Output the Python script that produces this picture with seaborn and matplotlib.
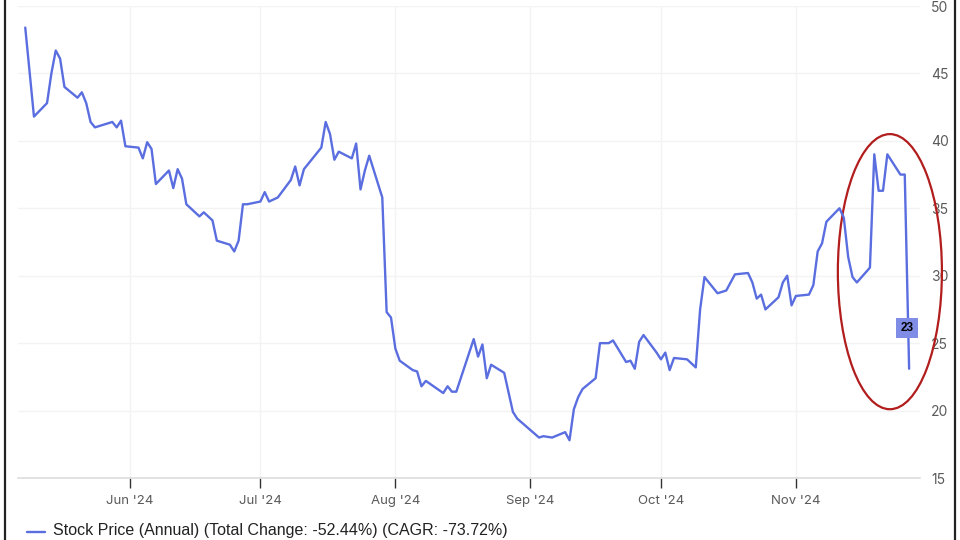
"""Stock price line chart with highlighted recent drop."""

import matplotlib
matplotlib.use("Agg")

import matplotlib.dates as mdates
import matplotlib.pyplot as plt
import pandas as pd
import seaborn as sns
from matplotlib.lines import Line2D
from matplotlib.patches import Ellipse


dates = [
    "2024-05-08", "2024-05-10", "2024-05-13", "2024-05-14", "2024-05-15", "2024-05-16",
    "2024-05-17", "2024-05-20", "2024-05-21", "2024-05-22", "2024-05-23", "2024-05-24",
    "2024-05-28", "2024-05-29", "2024-05-30", "2024-05-31", "2024-06-03", "2024-06-04",
    "2024-06-05", "2024-06-06", "2024-06-07", "2024-06-10", "2024-06-11", "2024-06-12",
    "2024-06-13", "2024-06-14", "2024-06-17", "2024-06-18", "2024-06-20", "2024-06-21",
    "2024-06-24", "2024-06-25", "2024-06-26", "2024-06-27", "2024-06-28", "2024-07-01",
    "2024-07-02", "2024-07-03", "2024-07-05", "2024-07-08", "2024-07-09", "2024-07-10",
    "2024-07-11", "2024-07-15", "2024-07-16", "2024-07-17", "2024-07-18", "2024-07-19",
    "2024-07-22", "2024-07-23", "2024-07-24", "2024-07-25", "2024-07-26", "2024-07-29",
    "2024-07-30", "2024-07-31", "2024-08-01", "2024-08-02", "2024-08-05", "2024-08-06",
    "2024-08-07", "2024-08-08", "2024-08-12", "2024-08-13", "2024-08-14", "2024-08-15",
    "2024-08-19", "2024-08-20", "2024-08-21", "2024-08-22", "2024-08-23", "2024-08-26",
    "2024-08-28", "2024-08-29", "2024-09-03", "2024-09-04", "2024-09-06", "2024-09-09",
    "2024-09-10", "2024-09-11", "2024-09-12", "2024-09-13", "2024-09-16", "2024-09-17",
    "2024-09-19", "2024-09-20", "2024-09-23", "2024-09-24", "2024-09-25", "2024-09-26",
    "2024-09-27", "2024-09-30", "2024-10-01", "2024-10-02", "2024-10-03", "2024-10-04",
    "2024-10-07", "2024-10-09", "2024-10-10", "2024-10-11", "2024-10-14", "2024-10-15",
    "2024-10-16", "2024-10-18", "2024-10-21", "2024-10-22", "2024-10-23", "2024-10-24",
    "2024-10-25", "2024-10-28", "2024-10-29", "2024-10-30", "2024-10-31", "2024-11-01",
    "2024-11-04", "2024-11-05", "2024-11-06", "2024-11-07", "2024-11-08", "2024-11-11",
    "2024-11-12", "2024-11-13", "2024-11-14", "2024-11-15", "2024-11-18", "2024-11-19",
    "2024-11-20", "2024-11-21", "2024-11-22", "2024-11-25", "2024-11-26", "2024-11-27",
]

prices = [
    48.4, 41.8, 42.8, 45.0, 46.7, 46.1,
    44.0, 43.2, 43.6, 42.8, 41.4, 41.0,
    41.4, 41.0, 41.5, 39.6, 39.5, 38.7,
    39.9, 39.4, 36.8, 37.8, 36.5, 37.9,
    37.2, 35.3, 34.4, 34.7, 34.1, 32.6,
    32.3, 31.8, 32.6, 35.3, 35.3, 35.5,
    36.2, 35.5, 35.8, 37.1, 38.1, 36.7,
    37.9, 39.5, 41.4, 40.5, 38.6, 39.2,
    38.7, 39.8, 36.4, 37.8, 38.9, 35.8,
    27.3, 26.9, 24.6, 23.7, 23.0, 22.9,
    21.8, 22.2, 21.3, 21.8, 21.4, 21.4,
    25.3, 24.0, 24.9, 22.4, 23.4, 22.8,
    19.9, 19.4, 18.0, 18.1, 18.0, 18.4,
    17.8, 20.1, 21.0, 21.6, 22.4, 25.0,
    25.0, 25.2, 23.6, 23.7, 23.1, 25.1,
    25.6, 24.3, 23.8, 24.3, 23.0, 23.9,
    23.8, 23.2, 27.5, 29.9, 28.7, 28.8,
    28.9, 30.1, 30.2, 29.5, 28.3, 28.6,
    27.5, 28.4, 29.5, 30.0, 27.8, 28.5,
    28.6, 29.3, 31.8, 32.4, 34.0, 35.0,
    34.3, 31.4, 29.9, 29.5, 30.6, 39.0,
    36.3, 36.3, 39.0, 37.5, 37.5, 23.1,
]

month_ticks = ["2024-06-01", "2024-07-01", "2024-08-01", "2024-09-01", "2024-10-01", "2024-11-01"]
month_labels = ["Jun '24", "Jul '24", "Aug '24", "Sep '24", "Oct '24", "Nov '24"]
y_ticks = [15, 20, 25, 30, 35, 40, 45, 50]
legend_label = "Stock Price (Annual) (Total Change: -52.44%) (CAGR: -73.72%)"

LINE_COLOR = "#5a6ee0"
TEXT_COLOR = "#5a5a5a"

sns.set_theme(style="white")
plt.rcParams["font.family"] = ["Inter", "DejaVu Sans"]

df = pd.DataFrame({"date": pd.to_datetime(dates), "price": prices})

fig = plt.figure(figsize=(9.6, 5.4), dpi=100)
ax = fig.add_axes([18 / 960, 1 - 478 / 540, 902 / 960, 472 / 540])

sns.lineplot(data=df, x="date", y="price", ax=ax, color=LINE_COLOR, linewidth=1.7)

ax.set_xlim(pd.Timestamp("2024-05-06 08:00"), pd.Timestamp("2024-11-29 12:00"))
ax.set_ylim(15, 50)
ax.set_xlabel("")
ax.set_ylabel("")

ax.set_xticks(pd.to_datetime(month_ticks))
ax.set_xticklabels(month_labels)
ax.set_yticks(y_ticks)
ax.yaxis.tick_right()
ax.tick_params(axis="y", length=0, pad=8, labelsize=10, labelcolor=TEXT_COLOR)
ax.tick_params(axis="x", length=7, width=1, color="#333333", pad=5,
               labelsize=9.5, labelcolor=TEXT_COLOR, bottom=True, direction="out")

ax.grid(True, color="#f3f3f3", linewidth=1)
for side in ["top", "left", "right"]:
    ax.spines[side].set_visible(False)
ax.spines["bottom"].set_color("#dddddd")
ax.spines["bottom"].set_linewidth(1.2)

# end value tag
last = df.iloc[-1]
ax.annotate(f"{last['price']:.0f}", xy=(last["date"], last["price"]),
            xytext=(-2, 41), textcoords="offset pixels", ha="center", va="center",
            fontsize=8.5, fontweight="bold", color="black", family=["Liberation Sans"],
            bbox=dict(boxstyle="square,pad=0.35", fc="#7f8de6", ec="none"))

# red highlight around the recent spike and drop
center = mdates.date2num(pd.Timestamp("2024-11-22 14:00"))
ellipse = Ellipse((center, 30.3), width=23.9, height=20.4, fill=False,
                  edgecolor="#b21d1d", linewidth=1.6, clip_on=False)
ax.add_patch(ellipse)

# legend strip at the bottom edge
fig.add_artist(Line2D([27 / 960, 45 / 960], [8 / 540, 8 / 540], color=LINE_COLOR,
                      linewidth=1.7, transform=fig.transFigure))
fig.text(53 / 960, 5 / 540, legend_label, fontsize=11.5, color="#222222",
         family=["Liberation Sans"], va="baseline", ha="left")

# screenshot frame edges
for xpos in [5 / 960, 955 / 960]:
    fig.add_artist(Line2D([xpos, xpos], [0, 1], color="#222222", linewidth=1.6,
                          transform=fig.transFigure))

fig.savefig("out.png", dpi=100)
